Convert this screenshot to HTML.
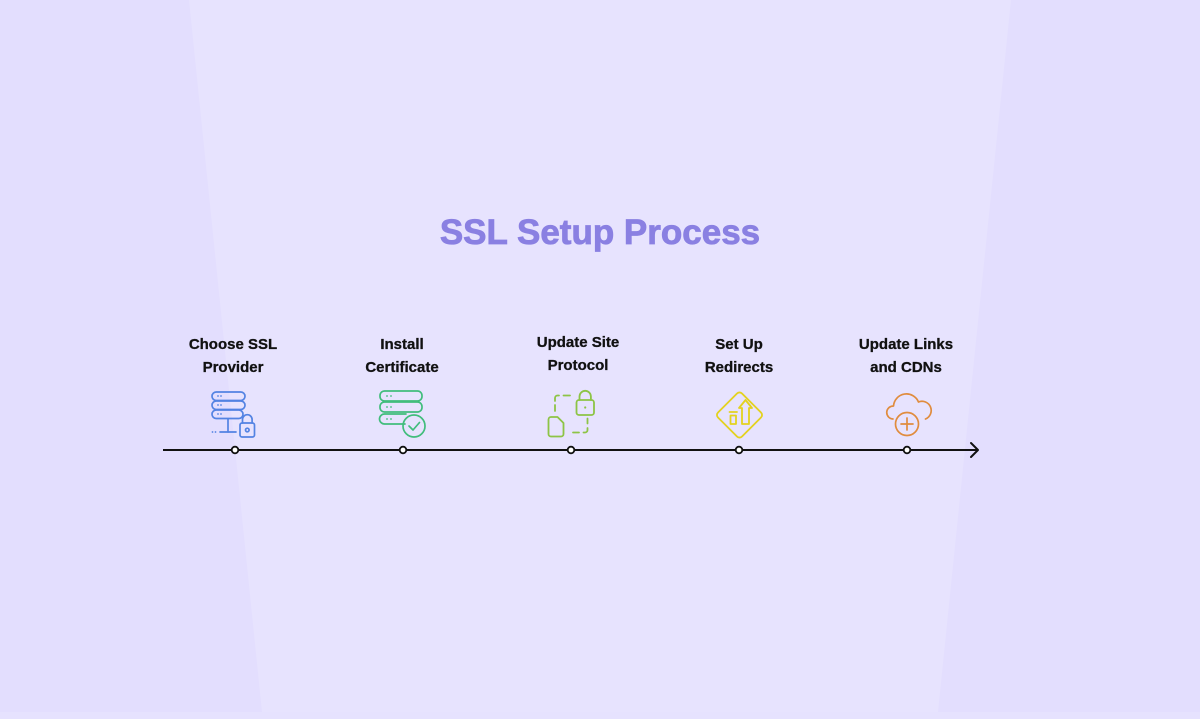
<!DOCTYPE html>
<html>
<head>
<meta charset="utf-8">
<style>
  html,body{margin:0;padding:0;}
  body{width:1200px;height:719px;overflow:hidden;background:#e7e3fe;position:relative;font-family:"Liberation Sans",sans-serif;}
  svg{position:absolute;left:0;top:0;}
  .lbl{font-family:"Liberation Sans",sans-serif;font-weight:bold;font-size:15px;fill:#111;stroke:#111;stroke-width:0.3;text-anchor:middle;}
</style>
</head>
<body>
<svg width="1200" height="719" viewBox="0 0 1200 719" xmlns="http://www.w3.org/2000/svg">
  <!-- background panels -->
  <rect x="0" y="0" width="1200" height="719" fill="#e7e3fe"/>
  <polygon points="0,0 189,0 262,712 0,712" fill="#e3defe"/>
  <polygon points="1011,0 1200,0 1200,712 938,712" fill="#e3defe"/>
  <rect x="0" y="712" width="1200" height="7" fill="#e6e2fe"/>

  <!-- title -->
  <text x="600" y="244" text-anchor="middle" font-family="Liberation Sans, sans-serif" font-weight="bold" font-size="35" fill="#8a80e2" stroke="#8a80e2" stroke-width="0.8">SSL Setup Process</text>

  <!-- labels -->
  <text class="lbl" x="233" y="349">Choose SSL</text>
  <text class="lbl" x="233" y="372">Provider</text>
  <text class="lbl" x="402" y="349">Install</text>
  <text class="lbl" x="402" y="372">Certificate</text>
  <text class="lbl" x="578" y="347">Update Site</text>
  <text class="lbl" x="578" y="370">Protocol</text>
  <text class="lbl" x="739" y="349">Set Up</text>
  <text class="lbl" x="739" y="372">Redirects</text>
  <text class="lbl" x="906" y="349">Update Links</text>
  <text class="lbl" x="906" y="372">and CDNs</text>

  <!-- timeline -->
  <line x1="163" y1="450" x2="977" y2="450" stroke="#111" stroke-width="2"/>
  <polyline points="971,443 978,450 971,457" fill="none" stroke="#111" stroke-width="2" stroke-linecap="round" stroke-linejoin="round"/>
  <g fill="#fff" stroke="#111" stroke-width="1.8">
    <circle cx="235" cy="450" r="3.3"/>
    <circle cx="403" cy="450" r="3.3"/>
    <circle cx="571" cy="450" r="3.3"/>
    <circle cx="739" cy="450" r="3.3"/>
    <circle cx="907" cy="450" r="3.3"/>
  </g>

  <!-- icon 1: server + lock (blue) -->
  <g fill="none" stroke="#5383e3" stroke-width="1.7" stroke-linecap="round" stroke-linejoin="round">
    <rect x="212" y="392" width="33" height="8.5" rx="4.2"/>
    <rect x="212" y="401" width="33" height="8.5" rx="4.2"/>
    <rect x="212" y="410" width="31" height="8.5" rx="4.2"/>
    <line x1="228" y1="419" x2="228" y2="432"/>
    <line x1="220" y1="432" x2="236" y2="432"/>
    <rect x="240" y="423" width="14.5" height="14" rx="2"/>
    <path d="M242.5 423 v-3.5 a4.8 4.8 0 0 1 9.6 0 v3.5"/>
    <circle cx="247.3" cy="430" r="1.8"/>
  </g>
  <g fill="#5383e3">
    <circle cx="218" cy="396" r="0.9"/><circle cx="221" cy="396" r="0.9"/>
    <circle cx="218" cy="405" r="0.9"/><circle cx="221" cy="405" r="0.9"/>
    <circle cx="218" cy="414" r="0.9"/><circle cx="221" cy="414" r="0.9"/>
    <circle cx="212.5" cy="432" r="0.9"/><circle cx="215.5" cy="432" r="0.9"/>
  </g>

  <!-- icon 2: server + check (green) -->
  <g fill="none" stroke="#41bd7c" stroke-width="1.7" stroke-linecap="round" stroke-linejoin="round">
    <rect x="380" y="391" width="42" height="10" rx="4.5"/>
    <rect x="380" y="402" width="42" height="10" rx="4.5"/>
    <path d="M405 424 H384.5 a4.5 4.5 0 0 1 0 -10 H406"/>
    <circle cx="414" cy="426" r="11"/>
    <polyline points="409,426 413,430 419.5,422.5"/>
  </g>
  <g fill="#41bd7c">
    <circle cx="387" cy="396" r="0.9"/><circle cx="391" cy="396" r="0.9"/>
    <circle cx="387" cy="407" r="0.9"/><circle cx="391" cy="407" r="0.9"/>
    <circle cx="387" cy="419" r="0.9"/><circle cx="391" cy="419" r="0.9"/>
  </g>

  <!-- icon 3: dashed frame + lock + doc (yellow-green) -->
  <g fill="none" stroke="#8dc446" stroke-width="1.8" stroke-linecap="round" stroke-linejoin="round">
    <path d="M555 401 v-3 a2.5 2.5 0 0 1 2.5 -2.5 h1.5"/>
    <line x1="563.5" y1="395.5" x2="570" y2="395.5"/>
    <line x1="555" y1="405" x2="555" y2="411"/>
    <path d="M587.5 428 v2 a2.5 2.5 0 0 1 -2.5 2.5 h-1.5"/>
    <line x1="587.5" y1="418.5" x2="587.5" y2="423.5"/>
    <line x1="573" y1="432.5" x2="579" y2="432.5"/>
    <rect x="576.5" y="400" width="17.5" height="15" rx="2.5"/>
    <path d="M579.5 400 v-3.5 a5.7 5.7 0 0 1 11.4 0 v3.5"/>
    <path d="M548.5 434 v-14.5 a2.5 2.5 0 0 1 2.5 -2.5 h6.5 l6 6 v11 a2.5 2.5 0 0 1 -2.5 2.5 h-10 a2.5 2.5 0 0 1 -2.5 -2.5 z"/>
  </g>
  <circle cx="585.2" cy="407.5" r="1.1" fill="#8dc446"/>

  <!-- icon 4: diamond sign (yellow) -->
  <g fill="none" stroke="#e3d21f" stroke-width="1.8" stroke-linecap="round" stroke-linejoin="round">
    <path d="M737 393.5 a3.5 3.5 0 0 1 5 0 l19 19 a3.5 3.5 0 0 1 0 5 l-19 19 a3.5 3.5 0 0 1 -5 0 l-19 -19 a3.5 3.5 0 0 1 0 -5 z"/>
    <line x1="729.5" y1="412" x2="737" y2="412"/>
    <rect x="730.5" y="415.5" width="5.5" height="8.5"/>
    <path d="M742 424 v-16 h-3 l6.5 -8 l6.5 8 h-3 v16 z"/>
  </g>

  <!-- icon 5: cloud + plus (orange) -->
  <g fill="none" stroke="#e08c3e" stroke-width="1.7" stroke-linecap="round" stroke-linejoin="round">
    <path d="M893 419 a6.5 6.5 0 0 1 0.5 -13 a13 13 0 0 1 25 -4 a9 9 0 0 1 7 17"/>
    <circle cx="907" cy="424" r="11.5"/>
    <line x1="907" y1="418" x2="907" y2="430"/>
    <line x1="901" y1="424" x2="913" y2="424"/>
  </g>
</svg>
</body>
</html>
